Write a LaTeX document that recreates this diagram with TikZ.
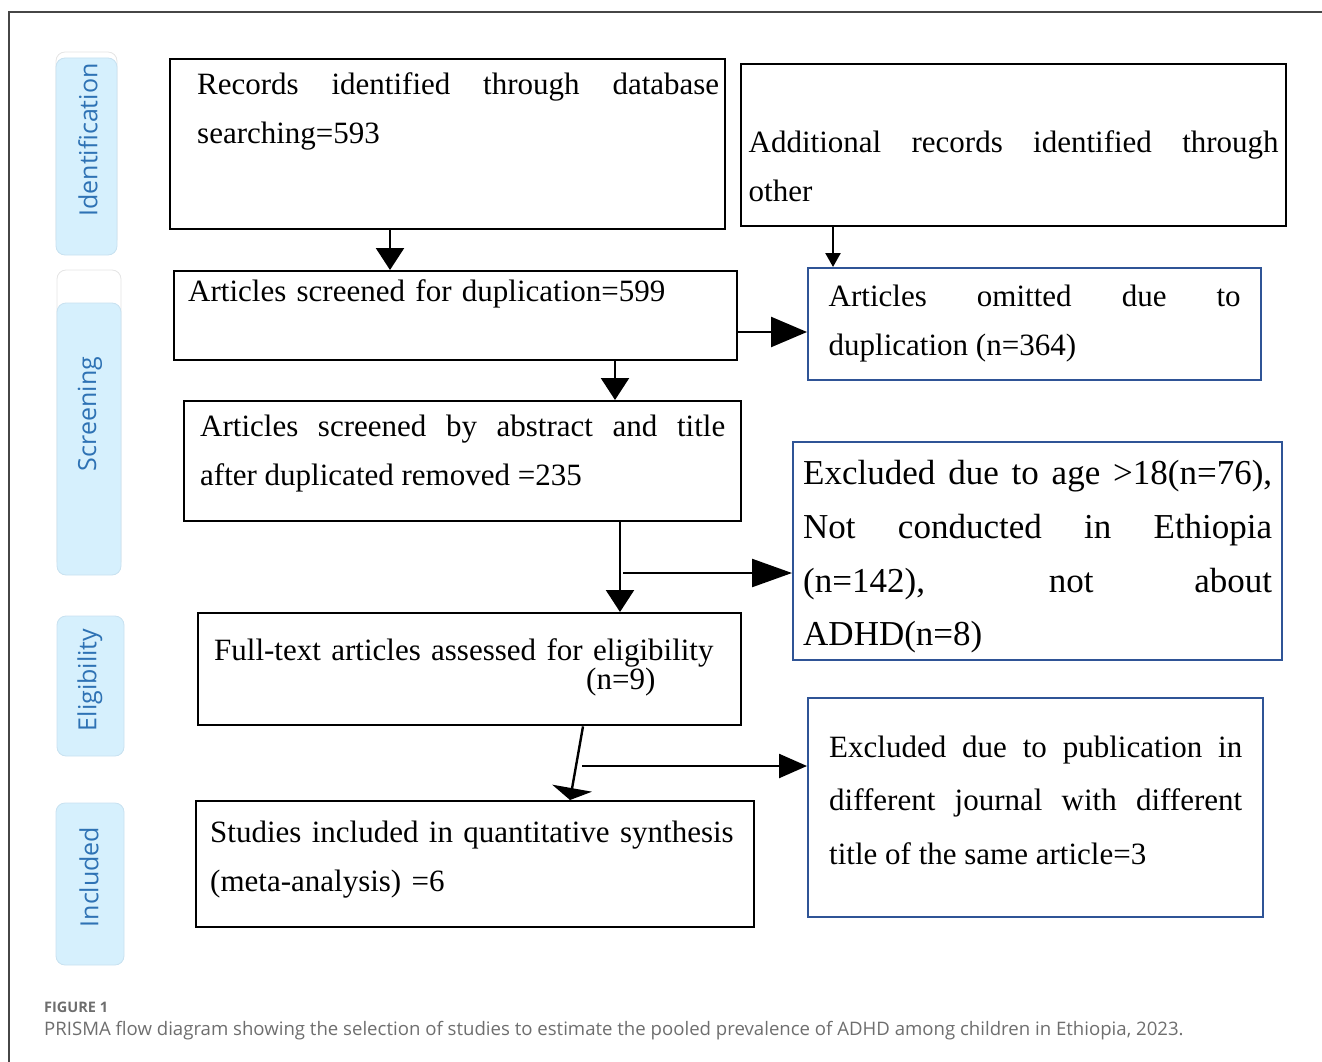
\documentclass[tikz,border=0pt]{standalone}
\usepackage{fontspec}
\setmainfont{Liberation Serif}
\newfontfamily\labfont{Open Sans}
\usepackage{xcolor}
\usepackage{tikz}
\usetikzlibrary{positioning, arrows.meta, calc}
\hyphenpenalty=10000
\exhyphenpenalty=10000
\definecolor{boxblue}{RGB}{47,84,150}
\definecolor{phasefill}{RGB}{214,240,253}
\definecolor{phasetext}{RGB}{46,114,180}
\definecolor{phaseedge}{RGB}{200,225,240}
\definecolor{capgray}{RGB}{110,110,110}
\definecolor{framegray}{RGB}{70,70,70}
\tikzstyle{bx}=[%
      rectangle, draw=black, line width=2.4pt, fill=none, anchor=north west,
      inner ysep=0pt, font=\fontsize{31}{49}\selectfont
]
\tikzstyle{bxb}=[%
      bx, draw=boxblue
]
\tikzstyle{ph}=[%
      rounded corners=9pt, fill=phasefill, draw=phaseedge, line width=0.8pt
]
\tikzstyle{phl}=[%
      rotate=90, text=phasetext, font=\labfont\fontsize{25}{25}\selectfont
]
\tikzstyle{ar}=[%
      line width=2.4pt, -{Triangle[length=22pt,width=28pt]}
]

\begin{document}
\begin{tikzpicture}[x=1pt, y=-1pt]
    \useasboundingbox (0,0) rectangle (1322,1062);
    % frame
    \draw[framegray, line width=1.3pt] (1322,12) -- (9,12) -- (9,1062);

    % phase labels
    \draw[ph, fill=white, draw=black!10] (56,52) rectangle (117,248);
    \draw[ph] (56,58) rectangle (117,255);
    \draw[ph, fill=white, draw=black!10] (57,270) rectangle (121,570);
    \draw[ph] (57,303) rectangle (121,575);
    \draw[ph] (57,616) rectangle (124,756);
    \draw[ph] (56,803) rectangle (124,965);
    \node[phl] (idl) at (88,140) {Identification};
    \node[phl] (scl) at (90,414) {Screening};
    \node[phl] (ell) at (90,680) {Eligibility};
    \node[phl] (inl) at (89,877) {Included};

    % boxes
    \node[bx, inner xsep=6pt, text width=543pt, text height=35pt, text depth=135pt, align=justify]
        (rec) at (169,58) {\hspace*{21pt}Records identified through database\linebreak\hspace*{21pt}searching=593};
    \node[bx, inner xsep=7.5pt, text width=530pt, text height=88pt, text depth=74pt, align=justify]
        (add) at (740,63) {Additional records identified through\linebreak other};
    \node[bx, inner xsep=14pt, text width=535pt, text height=30pt, text depth=59pt, align=left]
        (dup) at (173,270) {Articles screened for duplication=599};
    \node[bxb, inner xsep=20.5pt, text width=412pt, text height=38pt, text depth=74pt, align=justify]
        (omit) at (807,267) {Articles omitted due to\linebreak duplication (n=364)};
    \node[bx, inner xsep=16pt, text width=525pt, text height=35pt, text depth=85pt, align=justify]
        (abs) at (183,400) {Articles screened by abstract and title\linebreak after duplicated removed =235};
    \node[bxb, inner xsep=10pt, text width=469pt, text height=42.5pt, text depth=175.5pt, align=justify,
        font=\fontsize{35}{53.7}\selectfont]
        (age) at (792,441) {Excluded due to age >18(n=76),\linebreak Not conducted in Ethiopia\linebreak (n=142), not about\linebreak ADHD(n=8)};
    \node[bx, inner xsep=16pt, text width=511pt, text height=47pt, text depth=65pt, align=left,
        font=\fontsize{31}{29}\selectfont]
        (full) at (197,612) {Full-text articles assessed for eligibility\\\hspace*{372pt}(n=9)};
    \node[bx, inner xsep=14pt, text width=530pt, text height=41pt, text depth=85pt, align=left]
        (stud) at (195,800) {Studies included in quantitative synthesis\\(meta-analysis) =6};
    \node[bxb, inner xsep=21pt, text width=413pt, text height=59pt, text depth=160pt, align=justify,
        font=\fontsize{31}{53.5}\selectfont]
        (pub) at (807,697) {Excluded due to publication in\linebreak different journal with different\linebreak title of the same article=3};

    % arrows
    \coordinate (c1) at (623,573);
    \coordinate (c2) at (582,766);
    \draw[ar] (rec.south -| 390,0) -- (dup.north -| 390,4);
    \draw[ar, -{Triangle[length=14pt,width=15pt]}] (add.south -| 833,0) -- (omit.north -| 833,0);
    \draw[ar, -{Triangle[length=36pt,width=30pt]}] (dup.east |- 740,332) -- (omit.west |- 0,332);
    \draw[ar] (dup.south -| 615,0) -- (abs.north -| 615,0);
    \draw[ar] (abs.south -| 620,0) -- (full.north -| 620,0);
    \draw[ar, -{Triangle[length=40pt,width=28pt]}] (c1) -- (age.west |- c1);
    \draw[ar, -{Triangle[length=12pt,width=40pt]}] (full.south -| 583,0) -- (stud.north -| 570,0);
    \draw[ar, -{Triangle[length=28pt,width=24pt]}] (c2) -- (pub.west |- c2);

    % caption
    \node[anchor=west, inner sep=0pt, text=capgray, font=\labfont\bfseries\fontsize{14.5}{16}\selectfont]
        (fig) at (44,1007) {FIGURE 1};
    \node[anchor=west, inner sep=0pt, text=capgray, font=\labfont\fontsize{18.6}{20}\selectfont]
        (cap) at (44,1031) {PRISMA flow diagram showing the selection of studies to estimate the pooled prevalence of ADHD among children in Ethiopia, 2023.};
\end{tikzpicture}
\end{document}
